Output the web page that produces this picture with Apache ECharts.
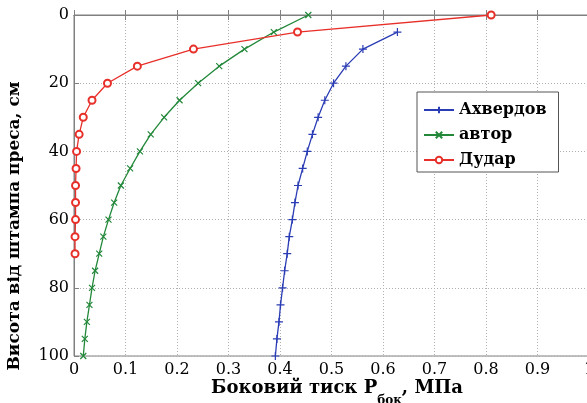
<!DOCTYPE html>
<html>
<head>
<meta charset="utf-8">
<script src="https://cdn.jsdelivr.net/npm/echarts@6/dist/echarts.min.js"></script>
<style>
html,body{margin:0;padding:0;background:#fff;}
#chart{width:587px;height:403px;}
</style>
</head>
<body>
<div id="chart"></div>
<script>
// Depths (cm) and lateral pressures (MPa)
const depthAkhverdov = [5,10,15,20,25,30,35,40,45,50,55,60,65,70,75,80,85,90,95,100];
const pressAkhverdov = [0.628,0.561,0.528,0.504,0.487,0.474,0.463,0.453,0.444,0.435,0.429,0.424,0.418,0.414,0.409,0.405,0.401,0.398,0.394,0.391];

const depthAuthor = [0,5,10,15,20,25,30,35,40,45,50,55,60,65,70,75,80,85,90,95,100];
const pressAuthor = [0.455,0.388,0.331,0.282,0.241,0.205,0.175,0.149,0.128,0.109,0.091,0.078,0.067,0.057,0.049,0.041,0.035,0.030,0.025,0.021,0.018];

const depthDudar = [0,5,10,15,20,25,30,35,40,45,50,55,60,65,70];
const pressDudar = [0.81,0.434,0.232,0.123,0.065,0.035,0.018,0.010,0.005,0.004,0.003,0.003,0.003,0.002,0.002];

const seriesNames = ['Ахвердов','автор','Дудар'];
const xTitle = 'Боковий тиск P';
const xTitleSub = 'бок';
const xTitleTail = ', МПа';
const yTitle = 'Висота від штампа преса, см';

const pair = (xs, ys) => xs.map((v, i) => [v, ys[i]]);

const FONT = 'DejaVu Serif';
const chart = echarts.init(document.getElementById('chart'));
const gridBox = {left:74, top:15, width:515, height:341};

chart.setOption({
  animation:false,
  backgroundColor:'#fff',
  grid:Object.assign({show:true, borderColor:'#808080', borderWidth:1, backgroundColor:'#fff', containLabel:false, outerBoundsMode:'none'}, gridBox),
  legend:{
    orient:'vertical', left:417, top:92,
    padding:[10,12,4,6], itemGap:9, itemWidth:30, itemHeight:8,
    borderColor:'#555', borderWidth:1, backgroundColor:'#fff', borderRadius:0,
    textStyle:{fontFamily:FONT, fontWeight:'bold', fontSize:16, color:'#000'},
    data:seriesNames
  },
  xAxis:[{
    type:'value', min:0, max:1, interval:0.1, position:'bottom',
    axisLine:{show:true, lineStyle:{color:'#808080'}},
    axisTick:{show:true, inside:true, length:5, lineStyle:{color:'#808080'}},
    splitLine:{show:true, lineStyle:{color:'#b0b0b0', type:[1,2]}},
    axisLabel:{fontFamily:FONT, fontSize:16, color:'#000', margin:6}
  },{
    type:'value', min:0, max:1, interval:0.1, position:'top',
    axisLine:{show:true, lineStyle:{color:'#808080'}},
    axisTick:{show:true, inside:true, length:5, lineStyle:{color:'#808080'}},
    axisLabel:{show:false}, splitLine:{show:false}
  }],
  yAxis:{
    type:'value', min:0, max:100, interval:20, inverse:true,
    axisLine:{show:true, lineStyle:{color:'#808080'}},
    axisTick:{show:true, inside:true, length:5, lineStyle:{color:'#808080'}},
    splitLine:{show:true, lineStyle:{color:'#b0b0b0', type:[1,2]}},
    axisLabel:{fontFamily:FONT, fontSize:16, color:'#000', margin:5}
  },
  graphic:[{
    type:'text', x:15, y:226, rotation:Math.PI/2,
    style:{text:yTitle, fontFamily:FONT, fontWeight:'bold', fontSize:17, fill:'#000', align:'center', verticalAlign:'middle'}
  },{
    type:'text', x:337, y:388,
    style:{
      text:'{m|' + xTitle + '}{s|' + xTitleSub + '}{m|' + xTitleTail + '}',
      align:'center', verticalAlign:'middle',
      rich:{
        m:{fontFamily:FONT, fontWeight:'bold', fontSize:18, fill:'#000', color:'#000'},
        s:{fontFamily:FONT, fontWeight:'bold', fontSize:12, fill:'#000', color:'#000', padding:[26,0,0,0]}
      }
    }
  }],
  series:[{
    name:seriesNames[0], type:'line', data:pair(pressAkhverdov, depthAkhverdov),
    symbol:'path://M0,5H10M5,0V10', symbolSize:8, showAllSymbol:true,
    lineStyle:{color:'#2b3db5', width:1.3},
    itemStyle:{color:'#2b3db5', borderColor:'#2b3db5', borderWidth:1.2}
  },{
    name:seriesNames[1], type:'line', data:pair(pressAuthor, depthAuthor),
    symbol:'path://M0,0L10,10M10,0L0,10', symbolSize:6, showAllSymbol:true,
    lineStyle:{color:'#23883a', width:1.3},
    itemStyle:{color:'#23883a', borderColor:'#23883a', borderWidth:1.2}
  },{
    name:seriesNames[2], type:'line', data:pair(pressDudar, depthDudar),
    symbol:'emptyCircle', symbolSize:7, showAllSymbol:true,
    lineStyle:{color:'#e8302a', width:1.3},
    itemStyle:{color:'#e8302a', borderColor:'#e8302a', borderWidth:1.2}
  }]
});
</script>
</body>
</html>
